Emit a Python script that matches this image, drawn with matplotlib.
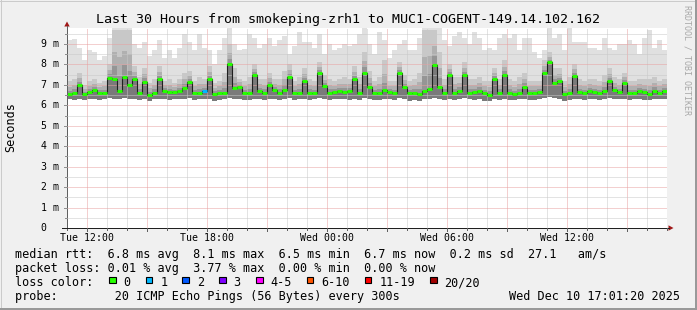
import numpy as np
import matplotlib.pyplot as plt
from matplotlib.lines import Line2D
from matplotlib.patches import Polygon, Rectangle

plt.rcParams['font.family'] = ['DejaVu Sans Mono']

# smokeping data, 15 minute bins from Tue 11:01:20 to Wed 17:01:20 (ms)
median_ms = [6.55, 6.6, 7.0, 6.55, 6.65, 6.75, 6.6, 6.6, 7.35, 7.3,
             6.7, 7.4, 7.0, 7.3, 6.6, 7.15, 6.5, 6.6, 7.3, 6.7,
             6.65, 6.65, 6.7, 6.85, 7.15, 6.6, 6.6, 6.7, 7.3, 6.55,
             6.6, 6.6, 8.0, 6.85, 6.9, 6.6, 6.6, 7.5, 6.7, 6.6,
             7.0, 6.75, 6.6, 6.75, 7.4, 6.6, 6.6, 7.2, 6.6, 6.6,
             7.6, 6.95, 6.6, 6.65, 6.7, 6.65, 6.7, 7.3, 6.6, 7.6,
             6.9, 6.6, 6.6, 6.75, 6.65, 6.6, 7.6, 6.9, 6.6, 6.6,
             6.55, 6.7, 6.8, 7.95, 6.9, 6.6, 7.5, 6.6, 6.7, 7.5,
             6.6, 6.65, 6.7, 6.6, 6.5, 7.3, 6.6, 7.5, 6.6, 6.55,
             6.6, 6.9, 6.6, 6.6, 6.65, 7.6, 8.1, 7.1, 7.2, 6.55,
             6.6, 7.45, 6.65, 6.6, 6.7, 6.65, 6.6, 6.7, 7.2, 6.75,
             6.65, 7.1, 6.6, 6.6, 6.7, 6.65, 6.55, 6.7, 6.6, 6.7]
smoke_min = [6.3, 6.25, 6.3, 6.25, 6.3, 6.3, 6.25, 6.3, 6.35, 6.3,
             6.3, 6.35, 6.3, 6.3, 6.25, 6.3, 6.2, 6.3, 6.3, 6.3,
             6.25, 6.3, 6.3, 6.3, 6.35, 6.25, 6.3, 6.3, 6.3, 6.2,
             6.25, 6.3, 6.35, 6.3, 6.3, 6.25, 6.25, 6.3, 6.3, 6.25,
             6.3, 6.3, 6.25, 6.3, 6.35, 6.25, 6.3, 6.3, 6.25, 6.3,
             6.35, 6.3, 6.25, 6.3, 6.3, 6.3, 6.25, 6.3, 6.25, 6.35,
             6.3, 6.25, 6.25, 6.3, 6.3, 6.25, 6.35, 6.3, 6.2, 6.25,
             6.2, 6.3, 6.3, 6.35, 6.3, 6.25, 6.3, 6.25, 6.3, 6.35,
             6.3, 6.25, 6.3, 6.2, 6.2, 6.3, 6.25, 6.3, 6.25, 6.25,
             6.3, 6.3, 6.25, 6.25, 6.3, 6.35, 6.4, 6.35, 6.3, 6.2,
             6.25, 6.3, 6.3, 6.25, 6.3, 6.3, 6.25, 6.3, 6.35, 6.3,
             6.3, 6.3, 6.25, 6.3, 6.3, 6.25, 6.25, 6.3, 6.3, 6.3]
smoke_max = [9.2, 9.25, 8.8, 8.2, 8.7, 8.6, 8.2, 8.4, 9.3, 9.76,
             9.76, 9.76, 9.76, 9.0, 8.8, 9.1, 8.4, 8.7, 9.2, 8.3,
             8.7, 8.3, 8.8, 9.5, 9.1, 8.7, 9.5, 8.8, 8.7, 8.0,
             8.7, 9.3, 9.76, 9.0, 8.7, 8.75, 9.5, 9.3, 8.8, 9.0,
             9.3, 8.9, 9.2, 9.4, 8.5, 8.9, 9.6, 9.1, 9.1, 8.8,
             9.5, 8.5, 9.0, 8.7, 8.8, 9.0, 8.9, 9.0, 9.5, 9.76,
             9.0, 8.5, 9.6, 9.2, 8.3, 8.7, 9.0, 9.2, 8.7, 8.7,
             9.3, 9.76, 9.76, 9.76, 9.76, 9.2, 8.9, 9.4, 9.6, 9.3,
             9.0, 9.6, 9.3, 8.7, 8.8, 8.7, 9.3, 9.5, 9.3, 9.5,
             8.7, 9.3, 9.3, 8.6, 8.3, 8.7, 9.76, 9.3, 9.5, 8.7,
             9.76, 9.1, 9.1, 9.1, 8.8, 8.8, 8.7, 9.3, 8.8, 8.7,
             9.0, 9.0, 9.2, 9.0, 8.5, 9.3, 9.7, 8.8, 9.2, 8.7]
smoke_mid = [7.2, 7.3, 7.6, 7.0, 7.2, 7.3, 7.1, 7.2, 8.0, 9.7,
             9.7, 9.7, 9.7, 7.9, 7.4, 7.8, 7.1, 7.3, 7.9, 7.2,
             7.3, 7.1, 7.3, 7.6, 7.7, 7.2, 7.4, 7.3, 7.9, 7.1,
             7.2, 7.6, 9.0, 7.8, 7.3, 7.2, 7.4, 8.0, 7.3, 7.3,
             7.6, 7.3, 7.3, 7.7, 8.0, 7.2, 7.4, 7.8, 7.3, 7.2,
             8.1, 7.5, 7.3, 7.2, 7.3, 7.4, 7.3, 7.9, 7.4, 8.6,
             7.7, 7.2, 7.4, 8.2, 7.2, 7.2, 8.1, 7.5, 7.2, 7.3,
             7.6, 9.7, 9.7, 9.7, 8.6, 7.3, 8.0, 7.4, 7.4, 8.1,
             7.3, 7.3, 7.4, 7.2, 7.2, 7.8, 7.3, 8.2, 7.3, 7.2,
             7.4, 7.6, 7.2, 7.2, 7.2, 8.2, 8.6, 7.8, 7.8, 7.2,
             7.4, 8.0, 7.3, 7.2, 7.3, 7.3, 7.2, 7.5, 7.8, 7.4,
             7.3, 7.6, 7.2, 7.2, 7.3, 7.3, 7.3, 7.4, 7.2, 7.3]
loss_one_bins = [27]  # bins where 1 of 20 pings was lost

t_start = 11 + 1 / 60 + 20 / 3600  # Tue 11:01:20, hours since Tue 00:00
bin_hours = 0.25

hour_ticks = [12, 18, 24, 30, 36]
hour_labels = ['Tue 12:00', 'Tue 18:00', 'Wed 00:00', 'Wed 06:00', 'Wed 12:00']
y_ticks = [0, 1, 2, 3, 4, 5, 6, 7, 8, 9]
y_labels = ['0  ', '1 m', '2 m', '3 m', '4 m', '5 m', '6 m', '7 m', '8 m', '9 m']

loss_names = ['0', '1', '2', '3', '4-5', '6-10', '11-19', '20/20']
loss_colors = ['#26ff00', '#00b8ff', '#0059ff', '#7e00ff', '#ff00ff', '#ff5500', '#ff0000', '#a10000']

rtt_avg, rtt_max, rtt_min, rtt_now, rtt_sd, am_s = 6.8, 8.1, 6.5, 6.7, 0.2, 27.1
loss_avg, loss_max, loss_min, loss_now = 0.01, 3.77, 0.00, 0.00

W, H = 697, 310
fig = plt.figure(figsize=(W / 100, H / 100), dpi=100, facecolor='#f0f0f0')
ax = fig.add_axes([67 / W, (H - 228) / H, 600 / W, 200 / H])
ax.set_facecolor('white')
for s in ax.spines.values():
    s.set_visible(False)
ax.set_xticks([])
ax.set_yticks([])
ax.set_xlim(t_start, t_start + 30)
ax.set_ylim(0, 9.78)

def px(x, y):
    return x / W, 1 - y / H

def fig_line(x0, y0, x1, y1, color, lw):
    a, b = px(x0, y0)
    c, d = px(x1, y1)
    fig.add_artist(Line2D([a, c], [b, d], transform=fig.transFigure, color=color, lw=lw * 0.72))

# smoke: light outer band, then darker shades closing in on the median
edges = t_start + bin_hours * np.arange(len(median_ms) + 1)
def stepvals(v):
    return np.append(np.asarray(v, dtype=float), v[-1])
lo = stepvals(smoke_min)
med = stepvals(median_ms)
mid = stepvals(smoke_mid)
ax.fill_between(edges, lo, stepvals(smoke_max), step='post', color='#e0e0e0', lw=0, zorder=1)
for frac, shade in [(1.0, '#c8c8c8'), (0.55, '#b0b0b0'), (0.25, '#959595'), (0.0, '#7a7a7a')]:
    ax.fill_between(edges, lo, med + frac * (mid - med), step='post', color=shade, lw=0, zorder=1)

# grid
dots = (0, (1, 1))
for h in range(12, 42):
    major = (h - 12) % 3 == 0
    ax.axvline(h, color='#e8a0a0' if major else '#c8c8c8', lw=0.72, ls=dots, zorder=2)
for v in np.arange(0.5, 9.6, 0.5):
    major = float(v).is_integer()
    ax.axhline(v, color='#e8a0a0' if major else '#c8c8c8', lw=0.72, ls=dots, zorder=2)

# median line coloured by loss
ax.step(edges, med, where='post', color='#202020', lw=0.8, zorder=3)
seg_colors = [loss_colors[1] if i in loss_one_bins else loss_colors[0] for i in range(len(median_ms))]
ax.hlines(median_ms, edges[:-1], edges[1:], colors=seg_colors, lw=2.2, capstyle='butt', zorder=4)

# axes and arrows
fig_line(67, 230, 67, 26, '#606060', 1)
fig_line(62, 228, 669, 228, '#202020', 1)
fig.add_artist(Polygon([px(64.3, 26.5), px(69.7, 26.5), px(67, 21.5)], closed=True,
                       transform=fig.transFigure, color='#a01818', lw=0))
fig.add_artist(Polygon([px(668.5, 225.3), px(668.5, 230.7), px(673.5, 228)], closed=True,
                       transform=fig.transFigure, color='#a01818', lw=0))
for h in range(12, 42):
    x = 67 + (h - t_start) * 20
    fig_line(x, 228, x, 230.5 if (h - 12) % 3 == 0 else 229.5, '#606060', 1)
for v in np.arange(0.5, 9.6, 0.5):
    y = 228 - v * 200 / 9.78
    fig_line(64 if float(v).is_integer() else 65, y, 67, y, '#909090', 1)

# tick labels
for v, lab in zip(y_ticks, y_labels):
    ax.text(-8 / 600, v, lab, transform=ax.get_yaxis_transform(), ha='right', va='center',
            fontsize=7.1, clip_on=False)
for h, lab in zip(hour_ticks, hour_labels):
    ax.text(h, -13 / 200, lab, transform=ax.get_xaxis_transform(), ha='center', va='baseline',
            fontsize=7.1, clip_on=False)

# titles
fig.text(*px(348, 23), 'Last 30 Hours from smokeping-zrh1 to MUC1-COGENT-149.14.102.162',
         ha='center', va='baseline', fontsize=9.6)
fig.text(*px(11, 127.5), 'Seconds', rotation=90, ha='center', va='center', fontsize=8.5)
fig.text(*px(687.5, 60), 'RRDTOOL / TOBI OETIKER', rotation=-90, ha='center', va='center',
         fontsize=6, color='#a8a8a8')

# legend
lg = dict(ha='left', va='baseline', fontsize=8.5)
fig.text(*px(15, 258), 'median rtt:  %.1f ms avg  %.1f ms max  %.1f ms min  %.1f ms now  %.1f ms sd  %.1f   am/s'
         % (rtt_avg, rtt_max, rtt_min, rtt_now, rtt_sd, am_s), **lg)
fig.text(*px(15, 272), 'packet loss: %.2f %% avg  %.2f %% max  %.2f %% min  %.2f %% now'
         % (loss_avg, loss_max, loss_min, loss_now), **lg)
fig.text(*px(15, 286), 'loss color:', **lg)
fig.text(*px(15, 300), 'probe:        20 ICMP Echo Pings (56 Bytes) every 300s', **lg)
fig.text(*px(680, 300), 'Wed Dec 10 17:01:20 2025', ha='right', va='baseline', fontsize=8.5)
bx = 109
for name, col in zip(loss_names, loss_colors):
    fig.add_artist(Rectangle(px(bx, 283.3), 6.7 / W, 6.7 / H, transform=fig.transFigure,
                             facecolor=col, edgecolor='black', lw=0.8))
    fig.text(*px(bx + 14.5, 286), name, **lg)
    bx += 29.6 + 7.1 * len(name)

# 3d frame
fig_line(0, 0.5, W, 0.5, '#cbcbcb', 1)
fig_line(0.5, 0, 0.5, H, '#cbcbcb', 1)
fig_line(0, H - 1, W, H - 1, '#999999', 2)
fig_line(W - 1, 0, W - 1, H, '#999999', 2)

fig.savefig('out.png', dpi=100, facecolor=fig.get_facecolor())
